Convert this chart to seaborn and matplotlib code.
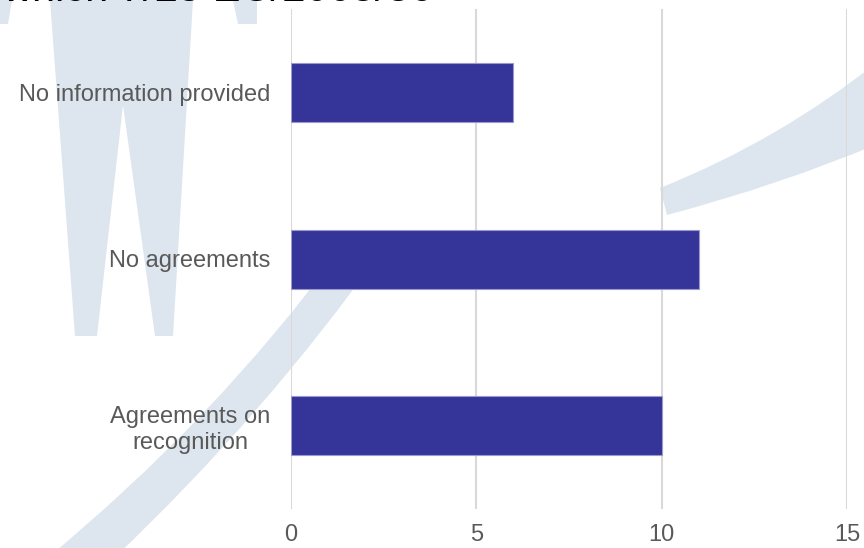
import matplotlib
matplotlib.use('Agg')
import matplotlib.pyplot as plt
from matplotlib.patches import Polygon, PathPatch
from matplotlib.path import Path
import seaborn as sns
import pandas as pd

# Chart data
categories = ['No information provided', 'No agreements', 'Agreements on\nrecognition']
counts = [6, 11, 10]
x_ticks = [0, 5, 10, 15]

BAR_COLOR = '#353498'
TEXT_COLOR = '#595959'
GRID_COLOR = '#d9d9d9'
MARK_COLOR = '#dde5ee'

sns.set_theme(style='white')
plt.rcParams['font.family'] = ['Liberation Sans', 'DejaVu Sans']

df = pd.DataFrame({'category': categories, 'count': counts})

fig = plt.figure(figsize=(8.64, 5.48), dpi=100)

# Background watermark (pixel coordinates, y downwards)
bg = fig.add_axes([0, 0, 1, 1], zorder=0)
bg.set_xlim(0, 864)
bg.set_ylim(548, 0)
bg.axis('off')
flat_shapes = [
    [(50, 0), (75, 336), (97, 336), (123, 105), (155, 336), (173, 336), (193, 0)],
    [(0, 0), (12, 0), (8, 24), (0, 24)],
    [(233, 0), (257, 0), (257, 24), (238, 24)],
]
for pts in flat_shapes:
    bg.add_patch(Polygon(pts, closed=True, facecolor=MARK_COLOR, edgecolor='none'))


def swoosh(a0, c0, a1, b1, c1, b0):
    # band with two quadratic edges: a0 -> a1 (control c0), b1 -> b0 (control c1)
    verts = [a0, c0, a1, b1, c1, b0, a0]
    codes = [Path.MOVETO, Path.CURVE3, Path.CURVE3, Path.LINETO,
             Path.CURVE3, Path.CURVE3, Path.CLOSEPOLY]
    return PathPatch(Path(verts, codes), facecolor=MARK_COLOR, edgecolor='none')


bg.add_patch(swoosh((45, 560), (215, 420), (340, 250),
                    (382, 250), (265, 415), (112, 560)))
bg.add_patch(swoosh((660, 188), (780, 140), (880, 60),
                    (880, 143), (780, 185), (667, 215)))

# Cut-off title at the very top, only the lower edge of the glyphs shows
bg.text(433, 1, 'which 7/25 EC/2005/36', ha='right', va='baseline',
        fontsize=30, color='black', clip_on=False)

ax = fig.add_axes([291 / 864, 1 - 509 / 548, 556 / 864, 500 / 548], zorder=1)
ax.patch.set_alpha(0)

sns.barplot(data=df, x='count', y='category', orient='h', color=BAR_COLOR,
            width=0.354, saturation=1, edgecolor='#9a9ad0', linewidth=0.8, ax=ax)

ax.set_xlim(0, 15)
ax.set_ylim(2.5, -0.5)
ax.set_xticks(x_ticks)
ax.xaxis.grid(True, color=GRID_COLOR, linewidth=1.5)
ax.set_axisbelow(True)
for s in ax.spines.values():
    s.set_visible(False)
ax.set_xlabel('')
ax.set_ylabel('')
ax.tick_params(axis='y', length=0, pad=15, labelsize=17, labelcolor=TEXT_COLOR)
ax.tick_params(axis='x', length=0, pad=11, labelsize=17, labelcolor=TEXT_COLOR)
for lbl in ax.get_yticklabels():
    lbl.set_multialignment('center')

fig.savefig('out.png', dpi=100)
